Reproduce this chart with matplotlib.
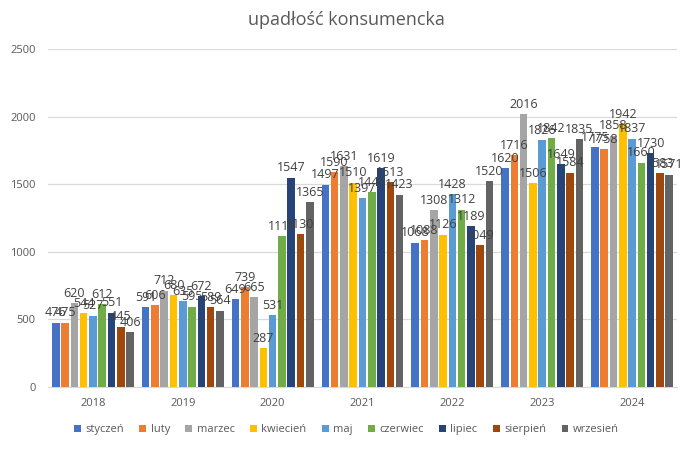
import matplotlib
matplotlib.use("Agg")
import matplotlib.pyplot as plt
import numpy as np

plt.rcParams['font.family'] = ['Open Sans', 'DejaVu Sans']

years = ["2018", "2019", "2020", "2021", "2022", "2023", "2024"]
months = ["styczeń", "luty", "marzec", "kwiecień", "maj", "czerwiec", "lipiec", "sierpień", "wrzesień"]
styczen = [476, 591, 649, 1497, 1068, 1620, 1775]
luty = [475, 606, 739, 1590, 1088, 1716, 1758]
marzec = [620, 712, 665, 1631, 1308, 2016, 1858]
kwiecien = [544, 680, 287, 1510, 1126, 1506, 1942]
maj = [527, 635, 531, 1397, 1428, 1826, 1837]
czerwiec = [612, 595, 1116, 1440, 1312, 1842, 1660]
lipiec = [551, 672, 1547, 1619, 1189, 1649, 1730]
sierpien = [445, 589, 1130, 1513, 1049, 1584, 1583]
wrzesien = [406, 564, 1365, 1423, 1520, 1835, 1571]
series = [styczen, luty, marzec, kwiecien, maj, czerwiec, lipiec, sierpien, wrzesien]
colors = ["#4472C4", "#ED7D31", "#A5A5A5", "#FFC000", "#5B9BD5", "#70AD47", "#264478", "#9E480E", "#636363"]

fig = plt.figure(figsize=(6.93, 4.49), dpi=100)
ax = fig.add_axes([48/693, 62/449, 629/693, (387-49)/449])

x = np.arange(len(years))
n = len(series)
slot = 0.93 / n
bw = slot * 0.82
for i, (vals, c, m) in enumerate(zip(series, colors, months)):
    pos = x - 0.465 + slot * (i + 0.5)
    bars = ax.bar(pos, vals, width=bw, color=c, label=m, zorder=3)
    for b, v in zip(bars, vals):
        ax.text(b.get_x() + b.get_width()/2, v + 25, str(v), ha='center', va='bottom',
                fontsize=9, color='#404040', zorder=4)

ax.set_xlim(-0.5, len(years) - 0.5)
ax.set_ylim(0, 2500)
ax.set_yticks(np.arange(0, 2501, 500))
ax.set_xticks(x)
ax.set_xticklabels(years)
ax.yaxis.grid(True, color='#d9d9d9', linewidth=0.9, zorder=0)
for s in ['top', 'right', 'left']:
    ax.spines[s].set_visible(False)
ax.spines['bottom'].set_color('#d9d9d9')
ax.tick_params(axis='both', length=0, labelsize=8, colors='#595959')
ax.tick_params(axis='x', pad=8)
ax.tick_params(axis='y', pad=9)

fig.text(0.5, 0.955, "upadłość konsumencka", ha='center', va='center', fontsize=13, color='#595959')

handles, labels = ax.get_legend_handles_labels()
fig.legend(handles, labels, loc='center', bbox_to_anchor=(0.5, 0.043), ncol=9, frameon=False,
           fontsize=8, handlelength=0.6, handleheight=0.6, handletextpad=0.4, columnspacing=1.4,
           labelcolor='#595959')

fig.savefig("out.png", dpi=100)
